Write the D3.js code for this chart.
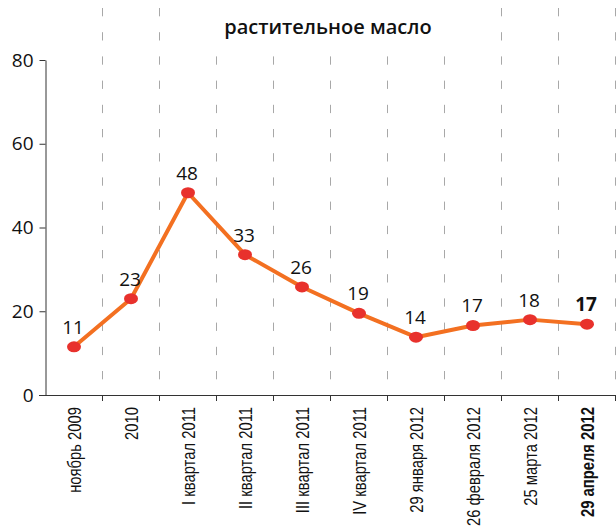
<!DOCTYPE html>
<html>
<head>
<meta charset="utf-8">
<script src="https://cdn.jsdelivr.net/npm/d3@7"></script>
<style>
  body { margin: 0; background: white; }
  svg { display: block; }
</style>
</head>
<body>
<div id="chart"></div>
<script>
var width = 616,
    height = 529;

// data
var categories = ["ноябрь 2009", "2010", "I квартал 2011", "II квартал 2011", "III квартал 2011",
                  "IV квартал 2011", "29 января 2012", "26 февраля 2012", "25 марта 2012", "29 апреля 2012"];
var values = [11.5, 23, 48.3, 33.5, 25.8, 19.5, 13.8, 16.6, 18, 16.9];
var valueLabels = ["11", "23", "48", "33", "26", "19", "14", "17", "18", "17"];
var yTicks = [0, 20, 40, 60, 80];
var title = "растительное масло";

var lineCol = "#f37021",
    dotCol = "#e8312c",
    axisCol = "#333",
    gridCol = "#a8a8a8";

var mainFont = "'Open Sans', 'Noto Sans', sans-serif",
    narrowFont = "'Liberation Sans', Arial, sans-serif";

var svg = d3.select("#chart").append("svg")
    .attr("width", width)
    .attr("height", height);

var x = d3.scaleBand().domain(categories).range([45.5, 615.5]);
var y = d3.scaleLinear().domain([0, 80]).range([395, 60]);

var last = categories.length - 1;

// dashed separators between categories
svg.append("g").selectAll("line")
    .data(categories)
  .enter().append("line")
    .attr("x1", function(d) { return x(d) + x.bandwidth(); })
    .attr("x2", function(d) { return x(d) + x.bandwidth(); })
    .attr("y1", 8)
    .attr("y2", 395)
    .attr("stroke", gridCol)
    .attr("stroke-width", 1)
    .attr("stroke-dasharray", "8.3,15.9");

// title with white box behind
svg.append("rect")
    .attr("x", 190).attr("y", 0)
    .attr("width", 280).attr("height", 50)
    .attr("fill", "white");

svg.append("text")
    .attr("x", 328)
    .attr("y", 34)
    .attr("text-anchor", "middle")
    .style("font-family", mainFont)
    .style("font-size", "20px")
    .style("font-weight", 600)
    .attr("fill", "#111")
    .text(title);

// y axis
var yAxis = svg.append("g")
    .attr("transform", "translate(45.5,0)")
    .call(d3.axisLeft(y).tickValues(yTicks).tickSize(6).tickPadding(6).tickSizeOuter(0));
yAxis.select(".domain").attr("stroke", axisCol);
yAxis.selectAll(".tick line").attr("stroke", axisCol);
yAxis.selectAll(".tick text")
    .style("font-family", mainFont)
    .style("font-size", "19px")
    .attr("fill", "#111");

// x axis line and ticks at category boundaries
svg.append("line")
    .attr("x1", 39).attr("x2", 616)
    .attr("y1", 395.5).attr("y2", 395.5)
    .attr("stroke", axisCol);

svg.append("g").selectAll("line")
    .data(categories)
  .enter().append("line")
    .attr("x1", function(d) { return x(d) + x.bandwidth(); })
    .attr("x2", function(d) { return x(d) + x.bandwidth(); })
    .attr("y1", 395)
    .attr("y2", 401)
    .attr("stroke", axisCol);

// rotated category labels (squeezed like a narrow face)
svg.append("g").selectAll("text")
    .data(categories)
  .enter().append("text")
    .attr("transform", function(d) {
      return "translate(" + (x(d) + x.bandwidth() / 2) + ",407) rotate(-90) scale(0.8,1)";
    })
    .attr("text-anchor", "end")
    .attr("dy", "0.36em")
    .style("font-family", narrowFont)
    .style("font-size", "18.5px")
    .style("font-weight", function(d, i) { return i == last ? "bold" : "normal"; })
    .attr("fill", "#111")
    .text(function(d) { return d; });

// the line
var line = d3.line()
    .x(function(d, i) { return x(categories[i]) + x.bandwidth() / 2; })
    .y(function(d) { return y(d); });

svg.append("path")
    .datum(values)
    .attr("d", line)
    .attr("fill", "none")
    .attr("stroke", lineCol)
    .attr("stroke-width", 4)
    .attr("stroke-linejoin", "round");

// points
svg.append("g").selectAll("ellipse")
    .data(values)
  .enter().append("ellipse")
    .attr("cx", function(d, i) { return x(categories[i]) + x.bandwidth() / 2; })
    .attr("cy", function(d) { return y(d); })
    .attr("rx", 7)
    .attr("ry", 5.5)
    .attr("fill", dotCol);

// value labels
svg.append("g").selectAll("text")
    .data(values)
  .enter().append("text")
    .attr("x", function(d, i) { return x(categories[i]) + x.bandwidth() / 2 - 1; })
    .attr("y", function(d) { return y(d) - 13; })
    .attr("text-anchor", "middle")
    .style("font-family", mainFont)
    .style("font-size", "19px")
    .style("font-weight", function(d, i) { return i == last ? "bold" : "normal"; })
    .attr("fill", "#111")
    .text(function(d, i) { return valueLabels[i]; });
</script>
</body>
</html>
